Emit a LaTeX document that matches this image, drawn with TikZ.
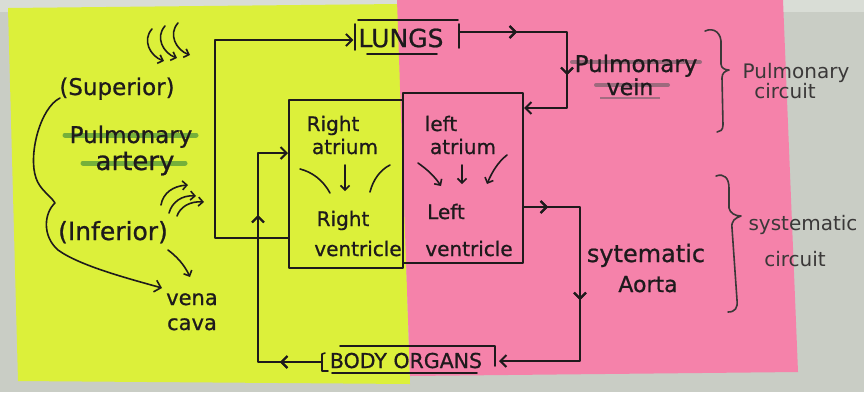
\documentclass[tikz,border=0pt]{standalone}
\usepackage{fontspec}
\setmainfont{DejaVu Sans}
\newfontfamily\handfont{DejaVu Sans}[FakeBold=0.8]
\usetikzlibrary{arrows.meta,decorations.markings,calc}
\definecolor{paper}{HTML}{C9CDC5}
\definecolor{paperlight}{HTML}{D9DDD6}
\definecolor{ylw}{HTML}{DCF03A}
\definecolor{pnk}{HTML}{F582AA}
\definecolor{ink}{HTML}{1E1A1C}
\definecolor{pencil}{HTML}{3A3838}
\definecolor{hlgreen}{HTML}{3E8E3A}
\definecolor{hlgrey}{HTML}{6E5E66}
\tikzset{
  pen/.style={draw=ink, line width=2pt, line cap=round, line join=round},
  thinpen/.style={draw=ink, line width=1.6pt, line cap=round, line join=round},
  tip/.tip={Straight Barb[length=6pt,width=12pt]},
  smalltip/.tip={Straight Barb[length=4.5pt,width=9pt]},
  midarr/.style={postaction={decorate},decoration={markings,mark=at position #1 with {\arrow{tip}}}},
  hand/.style={text=ink, inner sep=0pt},
  boxtxt/.style={hand, font=\handfont\fontsize{20}{22}\selectfont},
  lefttxt/.style={hand, font=\handfont\fontsize{23}{24}\selectfont},
  circtxt/.style={text=pencil, inner sep=0pt, font=\fontsize{20}{22}\selectfont},
  chamber/.style={pen, rectangle, inner sep=0pt},
  hl/.style={line width=5pt, line cap=round, opacity=0.65}
}
\begin{document}
\begin{tikzpicture}[x=1pt,y=-1pt]
\useasboundingbox (0,0) rectangle (864,392);
% paper
\fill[paper] (0,0) rectangle (864,392);
\fill[paperlight] (0,0) rectangle (864,12);
\fill[ylw] (8,8) -- (398,4) -- (410,384) -- (18,381) -- cycle;
\fill[pnk] (397,0) -- (783,0) -- (798,372) -- (410,376) -- cycle;

% heart chambers
\node[chamber, minimum width=114pt, minimum height=168pt] (rh) at (346,184) {};
\node[chamber, minimum width=120pt, minimum height=170pt] (lh) at (463,178) {};

% texts in chambers
\node[boxtxt, anchor=base] (ra1) at (333,131) {Right};
\node[boxtxt, anchor=base] (ra2) at (345,154) {atrium};
\node[boxtxt, anchor=base] (rv1) at (343,226) {Right};
\node[boxtxt, anchor=base] (rv2) at (358,256) {ventricle};
\node[boxtxt, anchor=base] (la1) at (441,131) {left};
\node[boxtxt, anchor=base] (la2) at (463,154) {atrium};
\node[boxtxt, anchor=base] (lv1) at (446,219) {Left};
\node[boxtxt, anchor=base] (lv2) at (469,256) {ventricle};

% inner arrows
\draw[thinpen] (300,169) .. controls (312,172) and (323,180) .. (330,193);
\draw[thinpen,-smalltip] (345,165) -- (345,191);
\draw[thinpen] (390,165) .. controls (380,170) and (373,180) .. (370,192);
\draw[thinpen,-smalltip] (418,163) .. controls (428,170) and (435,177) .. (441,186);
\draw[thinpen,-smalltip] (462,165) -- (462,184);
\draw[thinpen,-smalltip] (507,155) .. controls (498,162) and (492,172) .. (487,184);

% LUNGS
\node[hand, font=\handfont\fontsize{25}{26}\selectfont, inner sep=5pt] (lungs) at (401,38) {LUNGS};
\draw[thinpen] (355,24) -- (355,50);
\draw[thinpen] (459,24) -- (459,48);
\draw[thinpen] (358,20) -- (458,20);
\draw[thinpen] (367,54) -- (437,54);
\coordinate (lr) at (459,32);

% BODY ORGANS
\node[hand, font=\handfont\fontsize{20.5}{22}\selectfont, anchor=base] (body) at (406,368) {BODY ORGANS};
\draw[thinpen] (325,353) -- (322,354) -- (322,371) -- (328,371);
\draw[thinpen] (340,346) -- (495,346) -- (495,366);
\draw[thinpen] (332,373) -- (477,373);
\coordinate (bl) at (322,362);
\coordinate (br) at (499,361);

% circulation paths
\coordinate (a1) at (215,238);
\coordinate (a2) at (215,40);
\draw[pen,-tip] (rh.west |- a1) -- (a1) -- (a2) -- (lungs.west |- a2);

\coordinate (b1) at (567,32);
\coordinate (b2) at (567,108);
\draw[pen,-tip,midarr=58pt,midarr=151pt] (lr) -- (b1) -- (b2) -- (lh.east |- b2);

\coordinate (c1) at (580,207);
\coordinate (c2) at (580,361);
\draw[pen,-tip,midarr=24pt,midarr=149pt] (lh.east |- c1) -- (c1) -- (c2) -- (br);

\coordinate (d1) at (258,362);
\coordinate (d2) at (258,153);
\draw[pen,-tip,midarr=42pt,midarr=211pt] (bl) -- (d1) -- (d2) -- (rh.west |- d2);

% left side labels
\draw[hl, hlgreen] (65,135) -- (196,135);
\draw[hl, hlgreen] (83,163) -- (185,163);
\node[lefttxt, anchor=base] (sup) at (117,95) {(Superior)};
\node[lefttxt, anchor=base] (pa1) at (131,143) {Pulmonary};
\node[lefttxt, anchor=base, font=\handfont\fontsize{26}{28}\selectfont] (pa2) at (135,170) {artery};
\node[lefttxt, anchor=base, font=\handfont\fontsize{25}{28}\selectfont] (inf) at (113,240) {(Inferior)};
\node[lefttxt, anchor=base, font=\handfont\fontsize{21}{22}\selectfont] (vc1) at (192,305) {vena};
\node[lefttxt, anchor=base, font=\handfont\fontsize{21}{22}\selectfont] (vc2) at (192,330) {cava};

% big curve to vena cava
\draw[thinpen,-tip] (60,98) .. controls (40,108) and (28,155) .. (36,178)
   .. controls (40,190) and (50,195) .. (55,203)
   .. controls (44,213) and (42,236) .. (58,250)
   .. controls (80,266) and (130,279) .. (162,288);
\draw[thinpen,-smalltip] (168,250) .. controls (176,256) and (184,264) .. (190,277);

% curly arrows upper
\foreach \dx/\dy in {0/0, 13/-3, 26/-6}{
  \draw[thinpen,-smalltip] (152+\dx,29+\dy) .. controls (142+\dx,40+\dy) and (150+\dx,56+\dy) .. (164+\dx,61+\dy);
}
% curly arrows lower
\draw[thinpen,-smalltip] (161,205) .. controls (163,193) and (173,186) .. (188,185);
\draw[thinpen,-smalltip] (169,213) .. controls (172,202) and (182,195) .. (196,196);
\draw[thinpen,-smalltip] (177,216) .. controls (180,207) and (190,201) .. (204,202);

% right side labels
\draw[hl, hlgrey, line width=4pt] (572,62) -- (700,62);
\draw[hl, hlgrey, line width=4pt] (596,85) -- (668,85);
\draw[hlgrey, line width=1.5pt, opacity=0.6] (600,98) -- (660,98);
\node[hand, font=\handfont\fontsize{23}{24}\selectfont, anchor=base] (pv1) at (636,72) {Pulmonary};
\node[hand, font=\handfont\fontsize{22}{24}\selectfont, anchor=base] (pv2) at (630,95) {vein};
\node[hand, font=\handfont\fontsize{24}{26}\selectfont, anchor=base] (sa1) at (646,262) {sytematic};
\node[hand, font=\handfont\fontsize{22}{24}\selectfont, anchor=base] (sa2) at (648,292) {Aorta};

% braces
\draw[thinpen, draw=pencil] (705,31) .. controls (714,27) and (722,33) .. (721,45) -- (721,64)
  .. controls (721,68) and (725,70) .. (729,70) .. controls (725,71) and (722,73) .. (722,78)
  -- (723,125) .. controls (723,130) and (720,132) .. (717,132);
\draw[thinpen, draw=pencil] (716,176) .. controls (724,173) and (729,178) .. (729,188) -- (729,208)
  .. controls (730,213) and (735,216) .. (741,216) .. controls (735,218) and (731,221) .. (732,228)
  -- (737,300) .. controls (738,308) and (735,312) .. (728,312);
\node[circtxt, anchor=base] (pc1) at (796,78) {Pulmonary};
\node[circtxt, anchor=base] (pc2) at (785,98) {circuit};
\node[circtxt, anchor=base] (sc1) at (803,230) {systematic};
\node[circtxt, anchor=base] (sc2) at (795,266) {circuit};
\end{tikzpicture}
\end{document}
